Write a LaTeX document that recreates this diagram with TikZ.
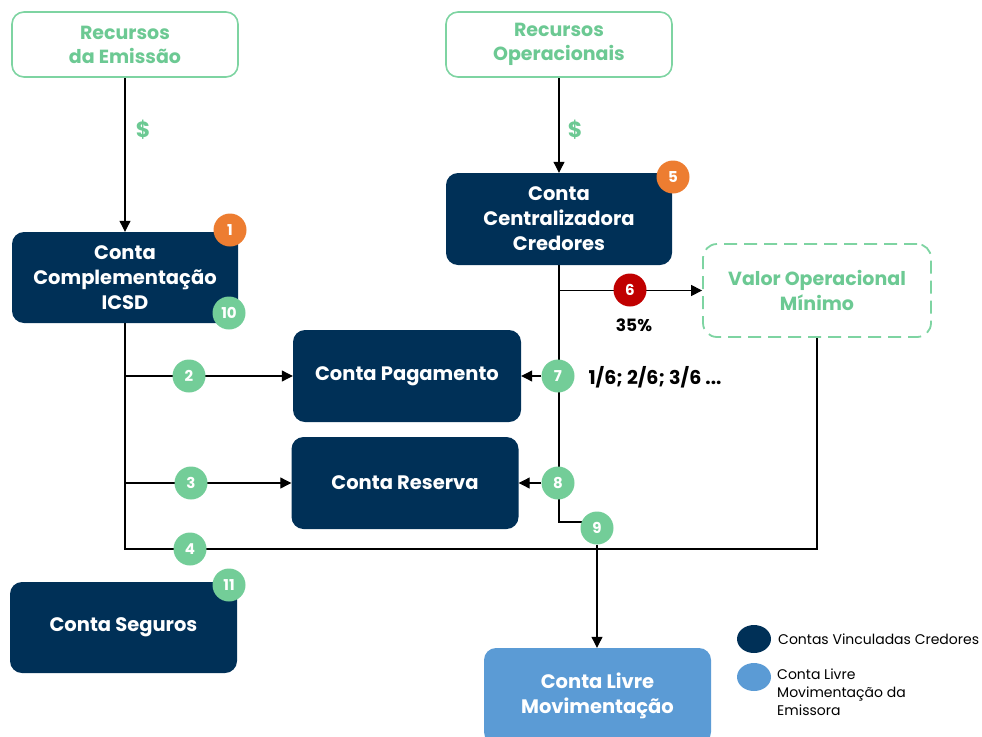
\documentclass[tikz,border=0pt]{standalone}
\usepackage{fontspec}
\setmainfont{Poppins}
\usetikzlibrary{arrows.meta,calc,shapes.geometric}
\definecolor{navy}{HTML}{003057}
\definecolor{gtext}{HTML}{6CC993}
\definecolor{gborder}{HTML}{7ED4A2}
\definecolor{badgeg}{HTML}{73CD98}
\definecolor{orng}{HTML}{ED7D31}
\definecolor{redb}{HTML}{C00000}
\definecolor{lblue}{HTML}{5B9BD5}
\pgfdeclarelayer{bg}
\pgfsetlayers{bg,main}
\begin{document}
\begin{tikzpicture}[x=1pt,y=-1pt,
  acct/.style={fill=navy, rounded corners=12pt, text=white, font=\bfseries\fontsize{19.5}{25}\selectfont, align=center, inner sep=0pt},
  src/.style={draw=gborder, line width=1.6pt, rounded corners=12pt, text=gtext, font=\bfseries\fontsize{19}{24}\selectfont, align=center, fill=white, inner sep=0pt, minimum width=226pt, minimum height=65pt},
  badge/.style={circle, minimum size=33pt, inner sep=0pt, text=white, font=\bfseries\fontsize{15}{15}\selectfont},
  gb/.style={badge, fill=badgeg},
  conn/.style={line width=1.1pt, draw=black},
  arr/.style={conn, -{Triangle[length=11pt,width=11pt]}},
  lbl/.style={font=\bfseries\fontsize{19}{20}\selectfont, text=black},
  leg/.style={font=\fontsize{14}{18}\selectfont, text=black, align=left}
]
\useasboundingbox (0,0) rectangle (982,736);
% sources
\node[src] (re) at (125,44.5) {Recursos\\da Emissão};
\node[src] (ro) at (559,44.5) {Recursos\\Operacionais};
% accounts
\node[acct, minimum width=226pt, minimum height=91pt] (cc) at (125,277.5) {Conta\\Complementação\\ICSD};
\node[acct, minimum width=226pt, minimum height=92pt] (cz) at (559,219) {Conta\\Centralizadora\\Credores};
\node[draw=gborder, line width=1.8pt, dash pattern=on 13pt off 7pt, rounded corners=14pt, text=gtext, font=\bfseries\fontsize{19}{25}\selectfont, align=center, inner sep=0pt, minimum width=228pt, minimum height=93pt] (vo) at (817,290.5) {Valor Operacional\\Mínimo};
\node[acct, minimum width=228pt, minimum height=92pt] (pg) at (407,376) {Conta Pagamento};
\node[acct, minimum width=227pt, minimum height=92pt] (rs) at (405,483) {Conta Reserva};
\node[acct, minimum width=227pt, minimum height=91pt] (sg) at (123.5,627.5) {Conta Seguros};
\node[acct, fill=lblue, minimum width=227pt, minimum height=96pt] (lv) at (597.5,696) {Conta Livre\\Movimentação};
% labels
\node[text=gtext, font=\bfseries\fontsize{22}{22}\selectfont] (d1) at (143,130) {\$};
\node[text=gtext, font=\bfseries\fontsize{22}{22}\selectfont] (d2) at (575,130) {\$};
\node[lbl, font=\bfseries\fontsize{17}{18}\selectfont] (p35) at (634,325) {35\%};
\node[lbl, anchor=west] (frac) at (585,377) {1/6; 2/6; 3/6 ...};
% badges
\node[badge, fill=orng] (b1) at (230,230) {1};
\node[gb] (b10) at (229,313) {10};
\node[badge, fill=orng] (b5) at (673,177) {5};
\node[badge, fill=redb] (b6) at (630,290) {6};
\node[gb] (b2) at (189,376) {2};
\node[gb] (b3) at (191,483) {3};
\node[gb] (b4) at (190,549) {4};
\node[gb] (b7) at (558,376) {7};
\node[gb] (b8) at (558,483) {8};
\node[gb] (b9) at (597,528) {9};
\node[gb] (b11) at (229,585) {11};
% junctions
\coordinate (j4) at (125,549);
\coordinate (vb) at (817,549);
\coordinate (j9) at (559,522);
% connectors
\begin{pgfonlayer}{bg}
\draw[arr] (re.south) -- (cc.north);
\draw[arr] (ro.south) -- (cz.north);
\draw[conn] (cc.south) -- (j4) -- (vb) -- (vo.south);
\draw[arr] (cc.south |- pg.west) -- (pg.west);
\draw[arr] (cc.south |- rs.west) -- (rs.west);
\draw[conn] (cz.south) -- (j9) -- (j9 -| b9.center);
\draw[arr] (cz.south |- vo.west) -- (vo.west);
\draw[arr] (b7) -- (pg.east);
\draw[arr] (b8) -- (rs.east);
\draw[arr] (b9) -- (b9 |- lv.north);
\end{pgfonlayer}
% legend
\node[ellipse, fill=navy, minimum width=34pt, minimum height=28pt, inner sep=0pt] (l1) at (754,639) {};
\node[ellipse, fill=lblue, minimum width=34pt, minimum height=28pt, inner sep=0pt] (l2) at (754,677) {};
\node[leg, anchor=west, inner sep=0pt] (t1) at (778,639) {Contas Vinculadas Credores};
\node[leg, anchor=north west, inner sep=0pt] (t2) at (777,669) {Conta Livre\\Movimentação da\\Emissora};
\end{tikzpicture}
\end{document}
